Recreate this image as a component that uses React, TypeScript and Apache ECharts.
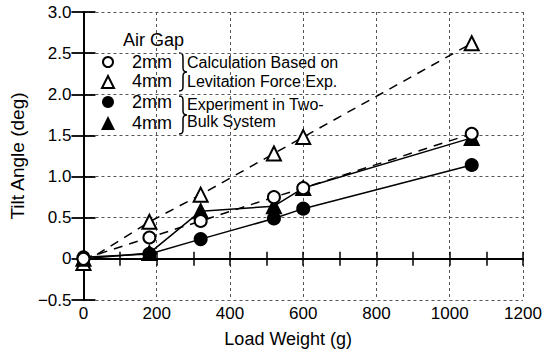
import React, { useEffect, useRef } from "react";
import * as echarts from "echarts";

const loads = [0, 180, 320, 520, 600, 1060];
const calc2mm = [0.0, 0.26, 0.46, 0.75, 0.86, 1.52];
const calc4mm = [-0.05, 0.45, 0.78, 1.28, 1.48, 2.62];
const exp2mm = [0.02, 0.06, 0.24, 0.49, 0.61, 1.14];
const exp4mm = [0.0, 0.07, 0.58, 0.64, 0.86, 1.47];

const xTicks = { min: 0, max: 1200, interval: 200 };
const yTicks = { min: -0.5, max: 3.0, interval: 0.5 };

const legendRows = [
  { label: "2mm", desc: "Calculation Based on" },
  { label: "4mm", desc: "Levitation Force Exp." },
  { label: "2mm", desc: "Experiment in Two-" },
  { label: "4mm", desc: "Bulk System" },
];

const FONT = '"Liberation Sans", Arial, sans-serif';

const pair = (ys: number[]) => loads.map((x, i) => [x, ys[i]]);

export default function App() {
  const ref = useRef<HTMLDivElement>(null);
  useEffect(() => {
    if (!ref.current) return;
    const braceD =
      "M0,0 C4,0 4,2 4,6 L4,15 C4,18 5,19 8,19 C5,19 4,20 4,23 L4,32 C4,36 4,38 0,38";
    echarts.graphic.registerShape("brace", echarts.graphic.extendPath(braceD, {}) as any);
    const chart = echarts.init(ref.current, null, { renderer: "svg" });

    const axisLine = { show: true, lineStyle: { color: "#000", width: 1.8 } };
    const gridLine = { show: true, lineStyle: { color: "#555", width: 1, type: [3, 3] as any } };
    const labelStyle = { color: "#000", fontSize: 17, fontFamily: FONT };
    const yFmt = (v: number) =>
      v === 0 ? "0" : v < 0 ? "\u2212" + Math.abs(v).toFixed(1) : v.toFixed(1);
    const xFmt = (v: number) => String(v);

    const mkLine = (name: string, ys: number[], symbol: string, filled: boolean, dashed: boolean, size: number) => ({
      name,
      type: "line",
      data: pair(ys),
      symbol,
      symbolSize: size,
      showSymbol: true,
      lineStyle: { color: "#000", width: 1.5, type: dashed ? ([9, 7] as any) : "solid" },
      itemStyle: { color: filled ? "#000" : "#fff", borderColor: "#000", borderWidth: 2 },
      emphasis: { disabled: true },
    });

    const rowsY = [62, 81, 102, 123];
    const symbols: any[] = [
      { type: "circle", shape: { cx: 108, cy: rowsY[0], r: 5 }, style: { fill: "#fff", stroke: "#000", lineWidth: 2 } },
      { type: "polygon", shape: { points: [[108, 76], [102, 88], [114, 88]] }, style: { fill: "#fff", stroke: "#000", lineWidth: 2 } },
      { type: "circle", shape: { cx: 108, cy: rowsY[2], r: 6 }, style: { fill: "#000" } },
      { type: "polygon", shape: { points: [[108, 116], [101, 130], [115, 130]] }, style: { fill: "#000" } },
    ];
    const descY = [62, 81, 104, 121];
    const texts: any[] = [];
    legendRows.forEach((r, i) => {
      texts.push({ type: "text", x: 132, y: rowsY[i], style: { text: r.label, fontSize: 18, fontFamily: FONT, fill: "#000", verticalAlign: "middle" } });
      texts.push({ type: "text", x: 187, y: descY[i], style: { text: r.desc, fontSize: 16, fontFamily: FONT, fill: "#000", verticalAlign: "middle" } });
    });

    chart.setOption({
      animation: false,
      backgroundColor: "#fff",
      grid: { left: 81, right: 25, top: 12, bottom: 59 },
      xAxis: [
        {
          type: "value",
          position: "bottom",
          ...xTicks,
          name: "Load Weight (g)",
          nameLocation: "middle",
          nameGap: 30,
          nameTextStyle: { color: "#000", fontSize: 18, fontFamily: FONT, padding: [0, 30, 0, 0] },
          axisLine,
          axisTick: { show: true, inside: true, length: 7, lineStyle: { color: "#000", width: 1.5 } },
          minorTick: { show: true, splitNumber: 2, length: 7, lineStyle: { color: "#000", width: 1.5 } },
          axisLabel: { ...labelStyle, margin: 5, formatter: xFmt },
          splitLine: gridLine,
        },
        {
          type: "value",
          position: "top",
          ...xTicks,
          axisLine,
          axisTick: { show: true, inside: true, length: 7, lineStyle: { color: "#000", width: 1.5 } },
          minorTick: { show: true, splitNumber: 2, length: 7, lineStyle: { color: "#000", width: 1.5 } },
          axisLabel: { show: false },
          splitLine: { show: false },
        },
      ],
      yAxis: [
        {
          type: "value",
          position: "left",
          ...yTicks,
          name: "Tilt Angle (deg)",
          nameLocation: "middle",
          nameGap: 52,
          nameRotate: 90,
          nameTextStyle: { color: "#000", fontSize: 19, fontFamily: FONT },
          axisLine,
          axisTick: { show: true, inside: true, length: 12, lineStyle: { color: "#000", width: 1.8 } },
          axisLabel: { ...labelStyle, margin: 12, formatter: yFmt, padding: [8, 0, 0, 0] },
          splitLine: gridLine,
        },
        {
          type: "value",
          position: "right",
          ...yTicks,
          axisLine,
          axisTick: { show: true, inside: true, length: 12, lineStyle: { color: "#000", width: 1.8 } },
          axisLabel: { show: false },
          splitLine: { show: false },
        },
      ],
      series: [
        mkLine("4mm calc", calc4mm, "triangle", false, true, 14),
        mkLine("4mm exp", exp4mm, "triangle", true, false, 14),
        mkLine("2mm exp", exp2mm, "circle", true, false, 12),
        mkLine("2mm calc", calc2mm, "circle", false, true, 12),
      ],
      graphic: [
        { type: "text", x: 123, y: 40, style: { text: "Air Gap", fontSize: 18, fontFamily: FONT, fill: "#000", verticalAlign: "middle" } },
        ...symbols,
        ...texts,
        { type: "brace", x: 179, y: 53, style: { stroke: "#000", fill: "none", lineWidth: 1.5 } },
        { type: "brace", x: 179, y: 96, style: { stroke: "#000", fill: "none", lineWidth: 1.5 } },
      ],
    });
    return () => chart.dispose();
  }, []);
  return <div ref={ref} style={{ position: "fixed", left: 0, top: 0, width: 548, height: 359 }} />;
}
